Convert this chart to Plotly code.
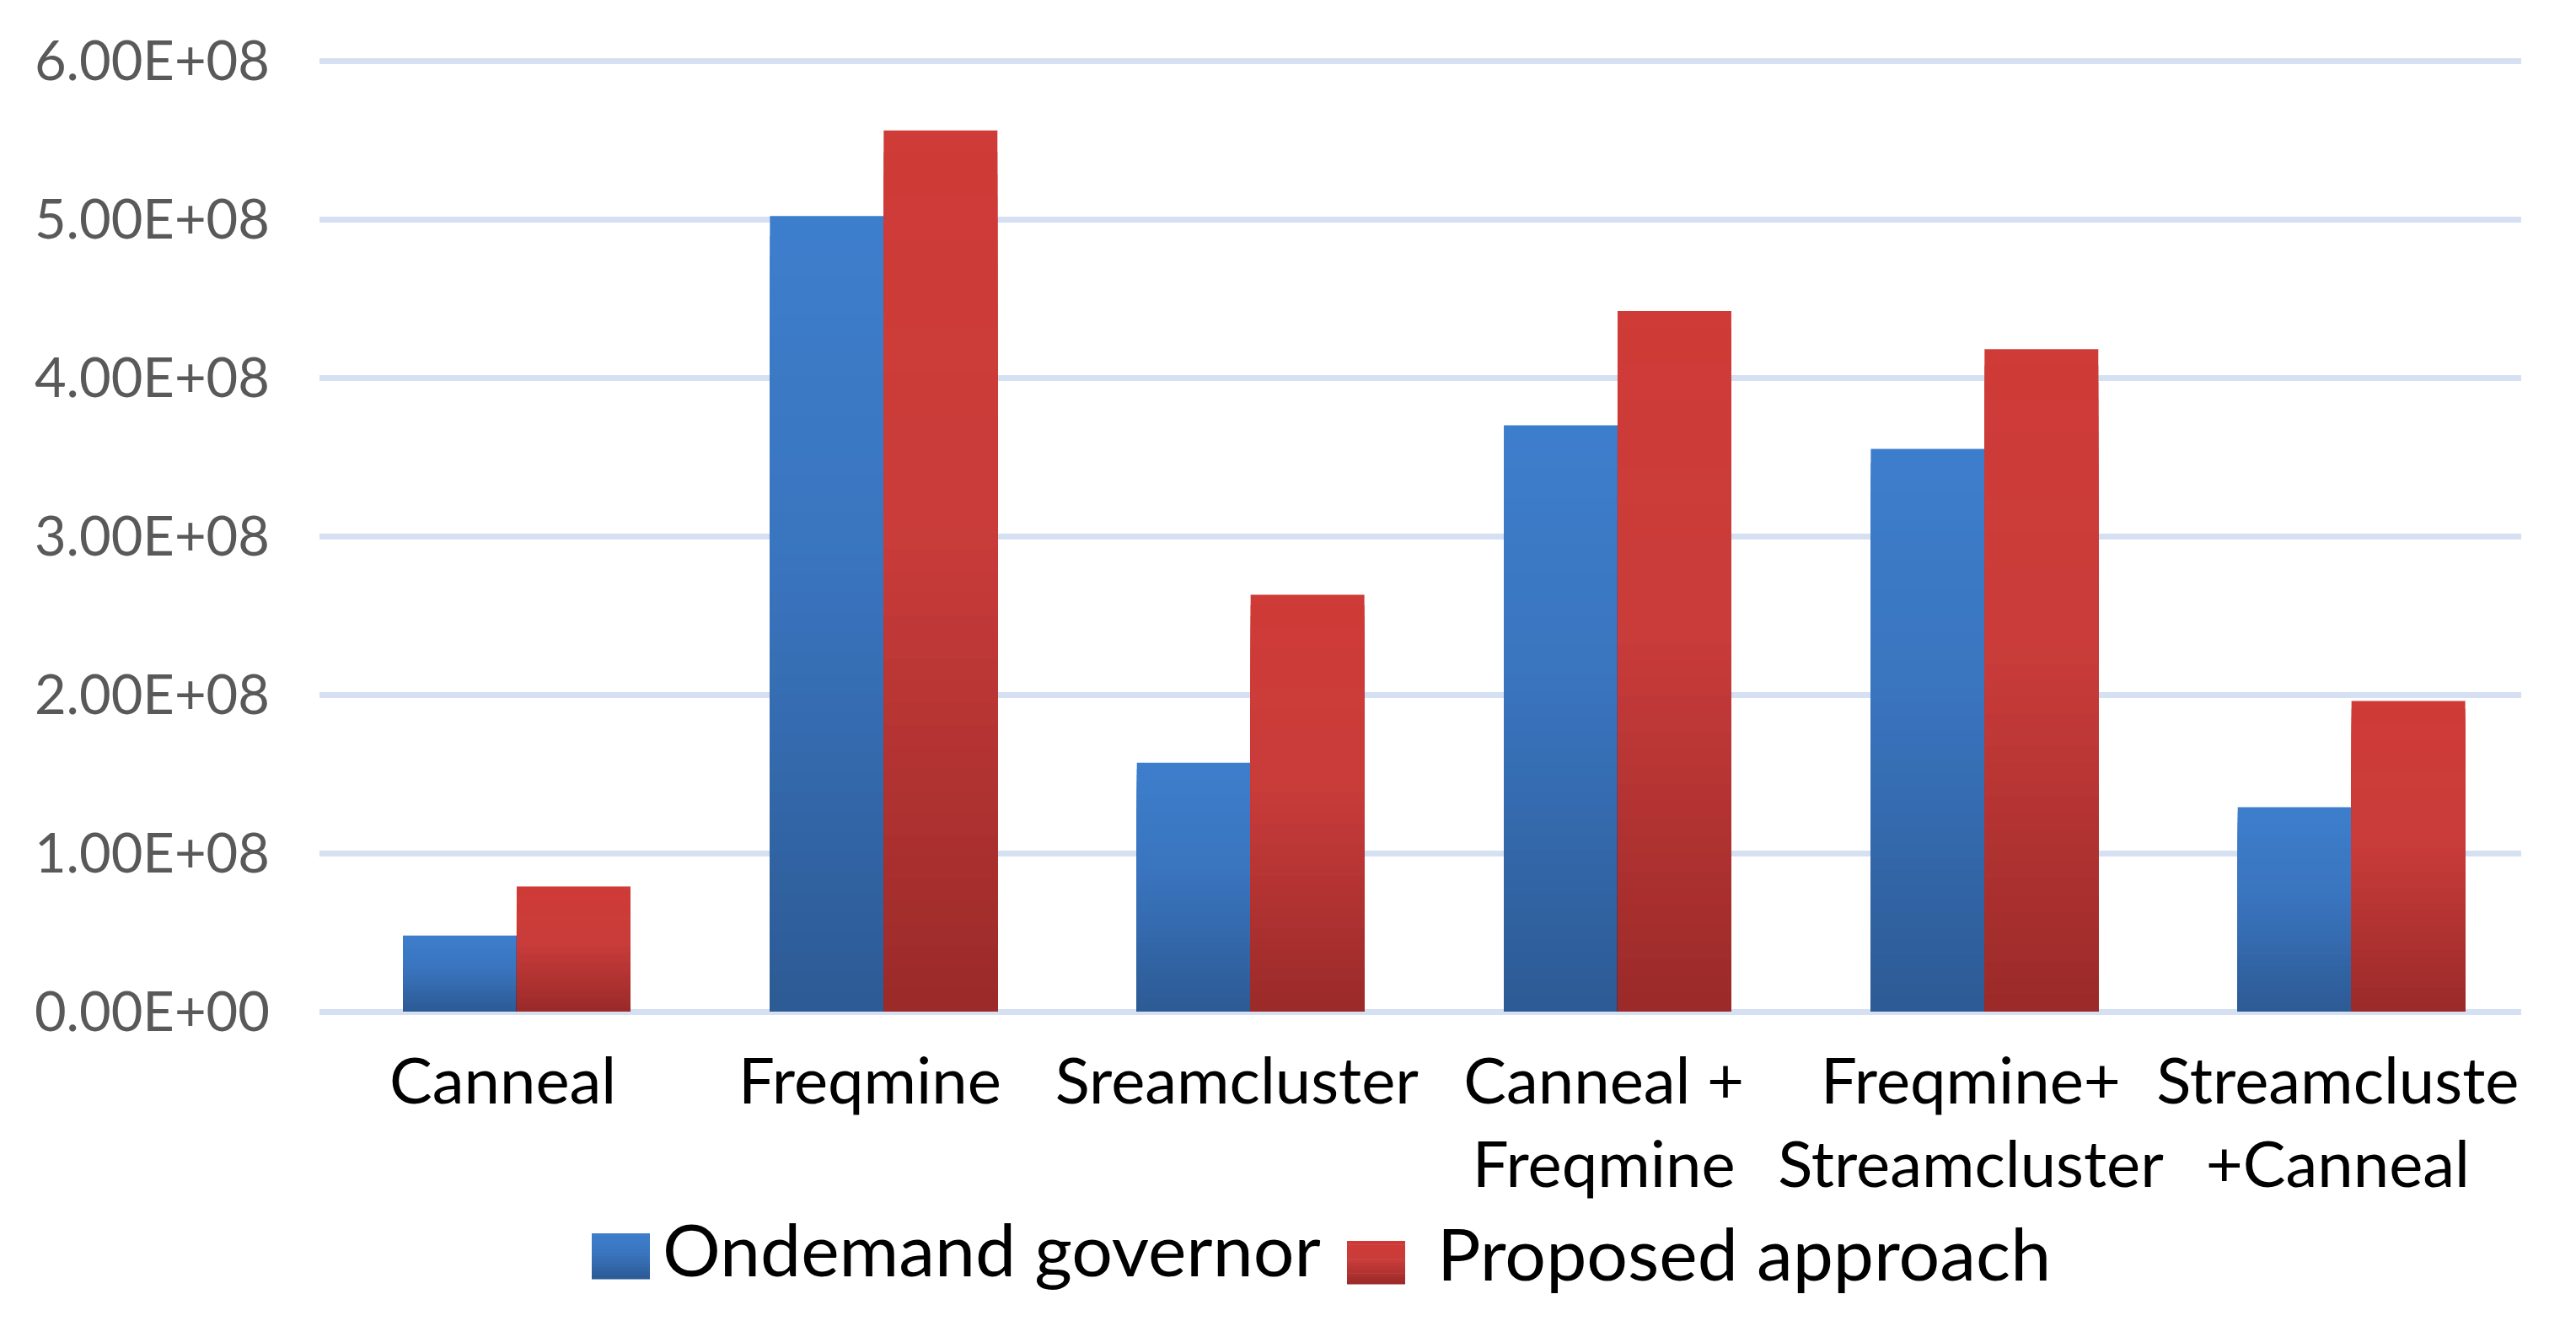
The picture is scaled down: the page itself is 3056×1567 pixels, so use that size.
import plotly.graph_objects as go

# ---------------- data ----------------
categories = ["Canneal", "Freqmine", "Sreamcluster", "Canneal +<br>Freqmine",
              "Freqmine+<br>Streamcluster", "Streamcluste<br>+Canneal"]
ondemand = [4.8e7, 5.02e8, 1.57e8, 3.70e8, 3.55e8, 1.29e8]
proposed = [7.9e7, 5.56e8, 2.63e8, 4.42e8, 4.18e8, 1.96e8]
series_names = ["Ondemand governor", "Proposed approach"]
y_tickvals = [0, 1e8, 2e8, 3e8, 4e8, 5e8, 6e8]
y_ticktext = ["0.00E+00", "1.00E+08", "2.00E+08", "3.00E+08",
              "4.00E+08", "5.00E+08", "6.00E+08"]

# ---------------- style / layout (page pixel coordinates) ----------------
PAGE_W, PAGE_H = 3056, 1567
OFF = 8                                   # default body margin of the page
W, H = PAGE_W - 2 * OFF, PAGE_H - 2 * OFF
X0, X1 = 379, 2991                        # plot area left/right (page px)
Y_TOP_GRID, Y_ZERO = 72, 1200             # 6E8 gridline and 0 line (page px)
Y_TOP = 68                                # plot top edge (page px), a bit above the top gridline
L = X0 - OFF
R = W - (X1 - OFF)
T = Y_TOP - OFF
B = H - (Y_ZERO - OFF)
PW, PH = W - L - R, H - T - B
Y_MAX_VIEW = 6e8 * (Y_ZERO - Y_TOP) / (Y_ZERO - Y_TOP_GRID)

BLUE_STOPS = [(0.0, (61, 126, 204)), (0.45, (58, 116, 190)), (1.0, (44, 90, 148))]
RED_STOPS = [(0.0, (207, 59, 55)), (0.45, (201, 60, 58)), (1.0, (154, 42, 41))]
GRID = "#D5E0F2"
NLAYERS = 40
BAR_W = 0.31
SHIFT = 0.0375
FONT = "Lato, Carlito, sans-serif"


def grad(stops, f):
    for (f0, c0), (f1, c1) in zip(stops[:-1], stops[1:]):
        if f <= f1:
            t = (f - f0) / (f1 - f0) if f1 > f0 else 0
            c = [round(a + (b - a) * t) for a, b in zip(c0, c1)]
            return "rgb(%d,%d,%d)" % tuple(c)
    return "rgb(%d,%d,%d)" % stops[-1][1]


fig = go.Figure()
for vals, stops, off, name in [(ondemand, BLUE_STOPS, -BAR_W + SHIFT, series_names[0]),
                               (proposed, RED_STOPS, SHIFT, series_names[1])]:
    for i in range(NLAYERS):
        frac = 1 - i / NLAYERS
        fig.add_trace(go.Bar(
            x=categories, y=[v * frac for v in vals],
            width=BAR_W, offset=off,
            marker=dict(color=grad(stops, (i + 0.5) / NLAYERS), line=dict(width=0)),
            name=name, showlegend=False, hoverinfo="skip" if i else "y",
        ))


def px_x(X):
    return (X - OFF - L) / PW


def px_y(Y):
    return (H - B - (Y - OFF)) / PH


shapes, annotations = [], []
legend_items = [
    (series_names[0], BLUE_STOPS, (702, 771, 1463, 1517), 784, 1480),
    (series_names[1], RED_STOPS, (1598, 1667, 1472, 1523), 1703, 1485),
]
for text, stops, (x0, x1, y0, y1), tx, ty in legend_items:
    n = 12
    for k in range(n):
        ya = y0 + (y1 - y0) * k / n
        yb = y0 + (y1 - y0) * (k + 1) / n + 0.6
        shapes.append(dict(type="rect", xref="paper", yref="paper",
                           x0=px_x(x0), x1=px_x(x1), y0=px_y(yb), y1=px_y(ya),
                           fillcolor=grad(stops, (k + 0.5) / n), line=dict(width=0),
                           layer="above"))
    annotations.append(dict(xref="paper", yref="paper", x=px_x(tx), y=px_y(ty),
                            xanchor="left", yanchor="middle", showarrow=False,
                            text=text, font=dict(family=FONT, size=86, color="#000000")))

fig.update_layout(
    width=W, height=H,
    margin=dict(l=L, r=R, t=T, b=B, pad=0),
    paper_bgcolor="white", plot_bgcolor="white",
    barmode="overlay",
    showlegend=False,
    shapes=shapes, annotations=annotations,
    xaxis=dict(
        type="category", range=[-0.5, 5.5],
        showgrid=False, zeroline=False, showline=False,
        ticks="outside", ticklen=17, tickcolor="rgba(0,0,0,0)",
        tickfont=dict(family=FONT, size=76, color="#000000"),
        tickangle=0,
    ),
    yaxis=dict(
        range=[0, Y_MAX_VIEW], tickvals=y_tickvals, ticktext=y_ticktext,
        showgrid=True, gridcolor=GRID, gridwidth=7,
        zeroline=True, zerolinecolor=GRID, zerolinewidth=7,
        showline=False, ticks="", ticklabelstandoff=58,
        tickfont=dict(family=FONT, size=65, color="#595959"),
    ),
)

fig.write_html("out.html")
